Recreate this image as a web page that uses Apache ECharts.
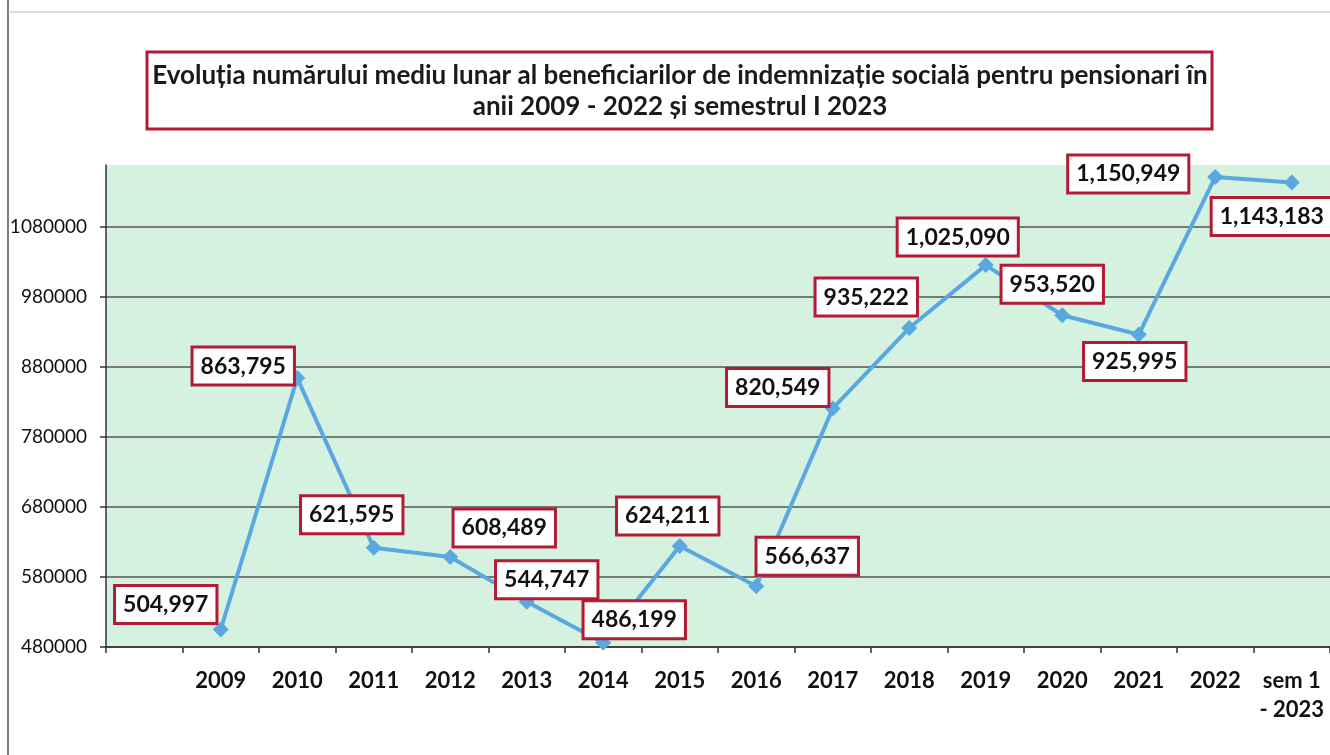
<!DOCTYPE html>
<html>
<head>
<meta charset="utf-8">
<script src="https://cdn.jsdelivr.net/npm/echarts@6/dist/echarts.min.js"></script>
<style>
html,body{margin:0;padding:0;background:#fff;}
#c{width:1330px;height:755px;}
</style>
</head>
<body>
<div id="c"></div>
<script>
var categories = ['', '2009', '2010', '2011', '2012', '2013', '2014', '2015', '2016', '2017', '2018', '2019', '2020', '2021', '2022', 'sem 1\n- 2023'];
var values = [null, 504997, 863795, 621595, 608489, 544747, 486199, 624211, 566637, 820549, 935222, 1025090, 953520, 925995, 1150949, 1143183];
var titleLines = ['Evoluția numărului mediu lunar al beneficiarilor de indemnizație socială pentru pensionari în', 'anii 2009 - 2022 și semestrul I 2023'];

// label offsets (styling only)
var labelOffsets = [null, [-55, -25], [-54, -12], [-22, -33], [54, -29], [20, -22], [31, -23], [-12, -30], [51, -30], [-55, -21], [-43, -31], [-28, -28], [-10, -31], [-4, 27], [-87, -3], [-20, 34]];

var fmt = function (v) { return v.toString().replace(/\B(?=(\d{3})+(?!\d))/g, ','); };

var seriesData = values.map(function (v, i) {
  if (v === null) return null;
  return {
    value: v,
    label: { offset: labelOffsets[i] }
  };
});

var chart = echarts.init(document.getElementById('c'));
chart.setOption({
  animation: false,
  backgroundColor: '#ffffff',
  graphic: [
    { type: 'line', shape: { x1: 8, y1: 0, x2: 8, y2: 755 }, style: { stroke: '#555', lineWidth: 1.5 } },
    { type: 'line', shape: { x1: 8, y1: 12, x2: 1330, y2: 12 }, style: { stroke: '#bbb', lineWidth: 1 } },
    { type: 'rect', shape: { x: 147, y: 52, width: 1065, height: 77 }, style: { fill: '#fff', stroke: '#b31b34', lineWidth: 3 } },
    { type: 'text', x: 680, y: 76, style: { text: titleLines[0], font: 'bold 26px Lato', fill: '#1a1a1a', align: 'center', verticalAlign: 'middle' } },
    { type: 'text', x: 680, y: 107, style: { text: titleLines[1], font: 'bold 26px Lato', fill: '#1a1a1a', align: 'center', verticalAlign: 'middle' } }
  ],
  grid: { left: 106, top: 165, width: 1227, height: 482, backgroundColor: '#d5f2e1', show: true, borderWidth: 0 },
  xAxis: {
    type: 'category',
    data: categories,
    boundaryGap: true,
    axisLine: { lineStyle: { color: '#333', width: 1.5 } },
    axisTick: { show: true, length: 6, lineStyle: { color: '#333', width: 1.5 } },
    axisLabel: { interval: 0, margin: 19, fontFamily: 'Lato', fontWeight: 'bold', fontSize: 22, color: '#111', lineHeight: 29, align: 'center' }
  },
  yAxis: {
    type: 'value',
    min: 480000,
    max: 1168000,
    interval: 100000,
    axisLine: { show: true, lineStyle: { color: '#333', width: 1.5 } },
    axisTick: { show: true, length: 6, lineStyle: { color: '#333', width: 1.5 } },
    axisLabel: { margin: 19, fontFamily: 'Lato', fontSize: 19, color: '#111', showMaxLabel: false, formatter: function (v) { return String(v); } },
    splitLine: { show: true, showMaxLine: false, lineStyle: { color: '#555', width: 1.5 } }
  },
  series: [{
    type: 'line',
    data: seriesData,
    connectNulls: false,
    symbol: 'diamond',
    symbolSize: 16,
    lineStyle: { color: '#5aa8df', width: 4 },
    itemStyle: { color: '#5aa8df' },
    label: {
      show: true,
      position: 'inside',
      formatter: function (p) { return fmt(p.value); },
      fontFamily: 'Lato',
      fontWeight: 'bold',
      fontSize: 23,
      color: '#111',
      backgroundColor: '#ffffff',
      borderColor: '#b31b34',
      borderWidth: 3,
      padding: [7, 7, 5, 7]
    },
    z: 3
  }]
});
</script>
</body>
</html>
